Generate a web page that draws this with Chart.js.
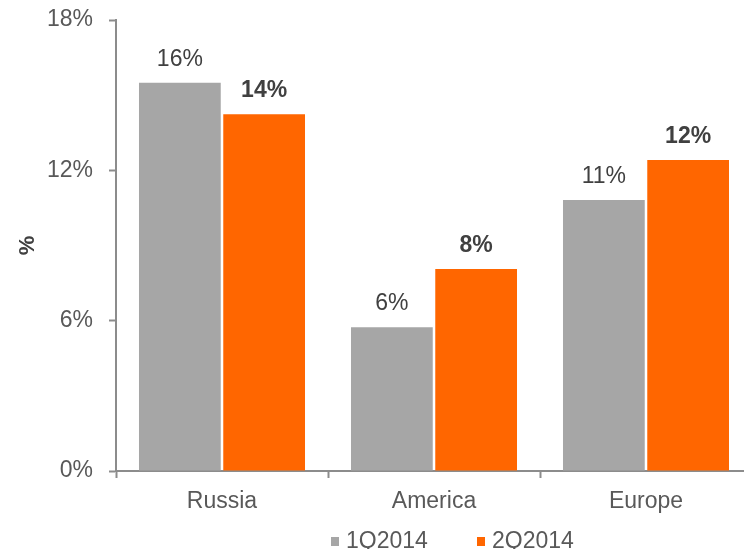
<!DOCTYPE html>
<html>
<head>
<meta charset="utf-8">
<script src="https://cdn.jsdelivr.net/npm/chart.js@4/dist/chart.umd.min.js"></script>
<style>
  html, body { margin: 0; padding: 0; background: #fff; overflow: hidden; }
  .chart-container { position: relative; width: 760px; height: 549px; }
</style>
</head>
<body>
<div class="chart-container"><canvas id="growth_region"></canvas></div>
<script>
// regions and quarterly growth rates (%)
const regions = ['Russia', 'America', 'Europe'];
const quarters = ['1Q2014', '2Q2014'];
const growth1Q = [15.5, 5.74, 10.82];
const growth2Q = [14.24, 8.06, 12.41];
const yTicks = [0, 6, 12, 18];

const colGris = '#a6a6a6';
const colOrange = '#ff6600';
const fontFam = "Arial, 'Liberation Sans', sans-serif";

// value labels above each bar, bold for the latest quarter
const barLabels = {
    id: 'barLabels',
    afterDatasetsDraw(chart) {
        const ctx = chart.ctx;
        ctx.save();
        ctx.textAlign = 'center';
        ctx.textBaseline = 'alphabetic';
        ctx.fillStyle = '#404040';
        chart.data.datasets.forEach((ds, di) => {
            const meta = chart.getDatasetMeta(di);
            ctx.font = (di === 1 ? 'bold ' : '') + '23px ' + fontFam;
            meta.data.forEach((bar, i) => {
                ctx.fillText(Math.round(ds.data[i]) + '%', bar.x, bar.y - 17);
            });
        });
        ctx.restore();
    }
};

// small square legend under the x labels
const legendBas = {
    id: 'legendBas',
    afterDraw(chart) {
        const ctx = chart.ctx;
        const starts = [331, 477];
        ctx.save();
        ctx.font = '23px ' + fontFam;
        ctx.textBaseline = 'alphabetic';
        ctx.textAlign = 'left';
        chart.data.datasets.forEach((ds, di) => {
            const x = starts[di];
            ctx.fillStyle = ds.backgroundColor;
            ctx.fillRect(x, 537, 8, 9);
            ctx.fillStyle = '#595959';
            ctx.fillText(ds.label, x + 15, 548);
        });
        ctx.restore();
    }
};

const ctx = document.getElementById('growth_region').getContext('2d');
const myChart = new Chart(ctx, {
    type: 'bar',
    data: {
        labels: regions,
        datasets: [{
            label: quarters[0],
            data: growth1Q,
            backgroundColor: colGris,
            barPercentage: 0.97,
            categoryPercentage: 0.795,
        }, {
            label: quarters[1],
            data: growth2Q,
            backgroundColor: colOrange,
            barPercentage: 0.97,
            categoryPercentage: 0.795,
        }]
    },
    options: {
        responsive: true,
        maintainAspectRatio: false,
        animation: false,
        layout: {
            padding: { left: 0, right: 8, top: 20, bottom: 0 }
        },
        plugins: {
            legend: { display: false },
            tooltip: { enabled: false }
        },
        scales: {
            x: {
                offset: true,
                afterFit: function(scale) { scale.height = 78; },
                ticks: {
                    color: '#595959',
                    padding: 10,
                    font: { family: fontFam, size: 23 }
                },
                grid: {
                    offset: true,
                    drawOnChartArea: false,
                    drawTicks: true,
                    tickLength: 7,
                    tickWidth: 2,
                    tickColor: '#8c8c8c',
                },
                border: { color: '#8c8c8c', width: 2 }
            },
            y: {
                min: 0,
                max: 18,
                afterFit: function(scale) {
                    scale.width = 116;
                    scale.paddingTop = 0;
                    scale.paddingBottom = 0;
                },
                afterBuildTicks: function(scale) {
                    scale.ticks = yTicks.map(v => ({ value: v }));
                },
                ticks: {
                    color: '#595959',
                    padding: 16,
                    font: { family: fontFam, size: 23 },
                    callback: function(value) { return value + '%'; }
                },
                title: {
                    display: true,
                    text: '%',
                    color: '#404040',
                    padding: { top: 15, bottom: 0 },
                    font: { family: fontFam, size: 22, weight: 'bold' }
                },
                grid: {
                    drawOnChartArea: false,
                    drawTicks: true,
                    tickLength: 7,
                    tickWidth: 2,
                    tickColor: '#8c8c8c',
                },
                border: { color: '#8c8c8c', width: 2 }
            }
        }
    },
    plugins: [barLabels, legendBas]
});
</script>
</body>
</html>
